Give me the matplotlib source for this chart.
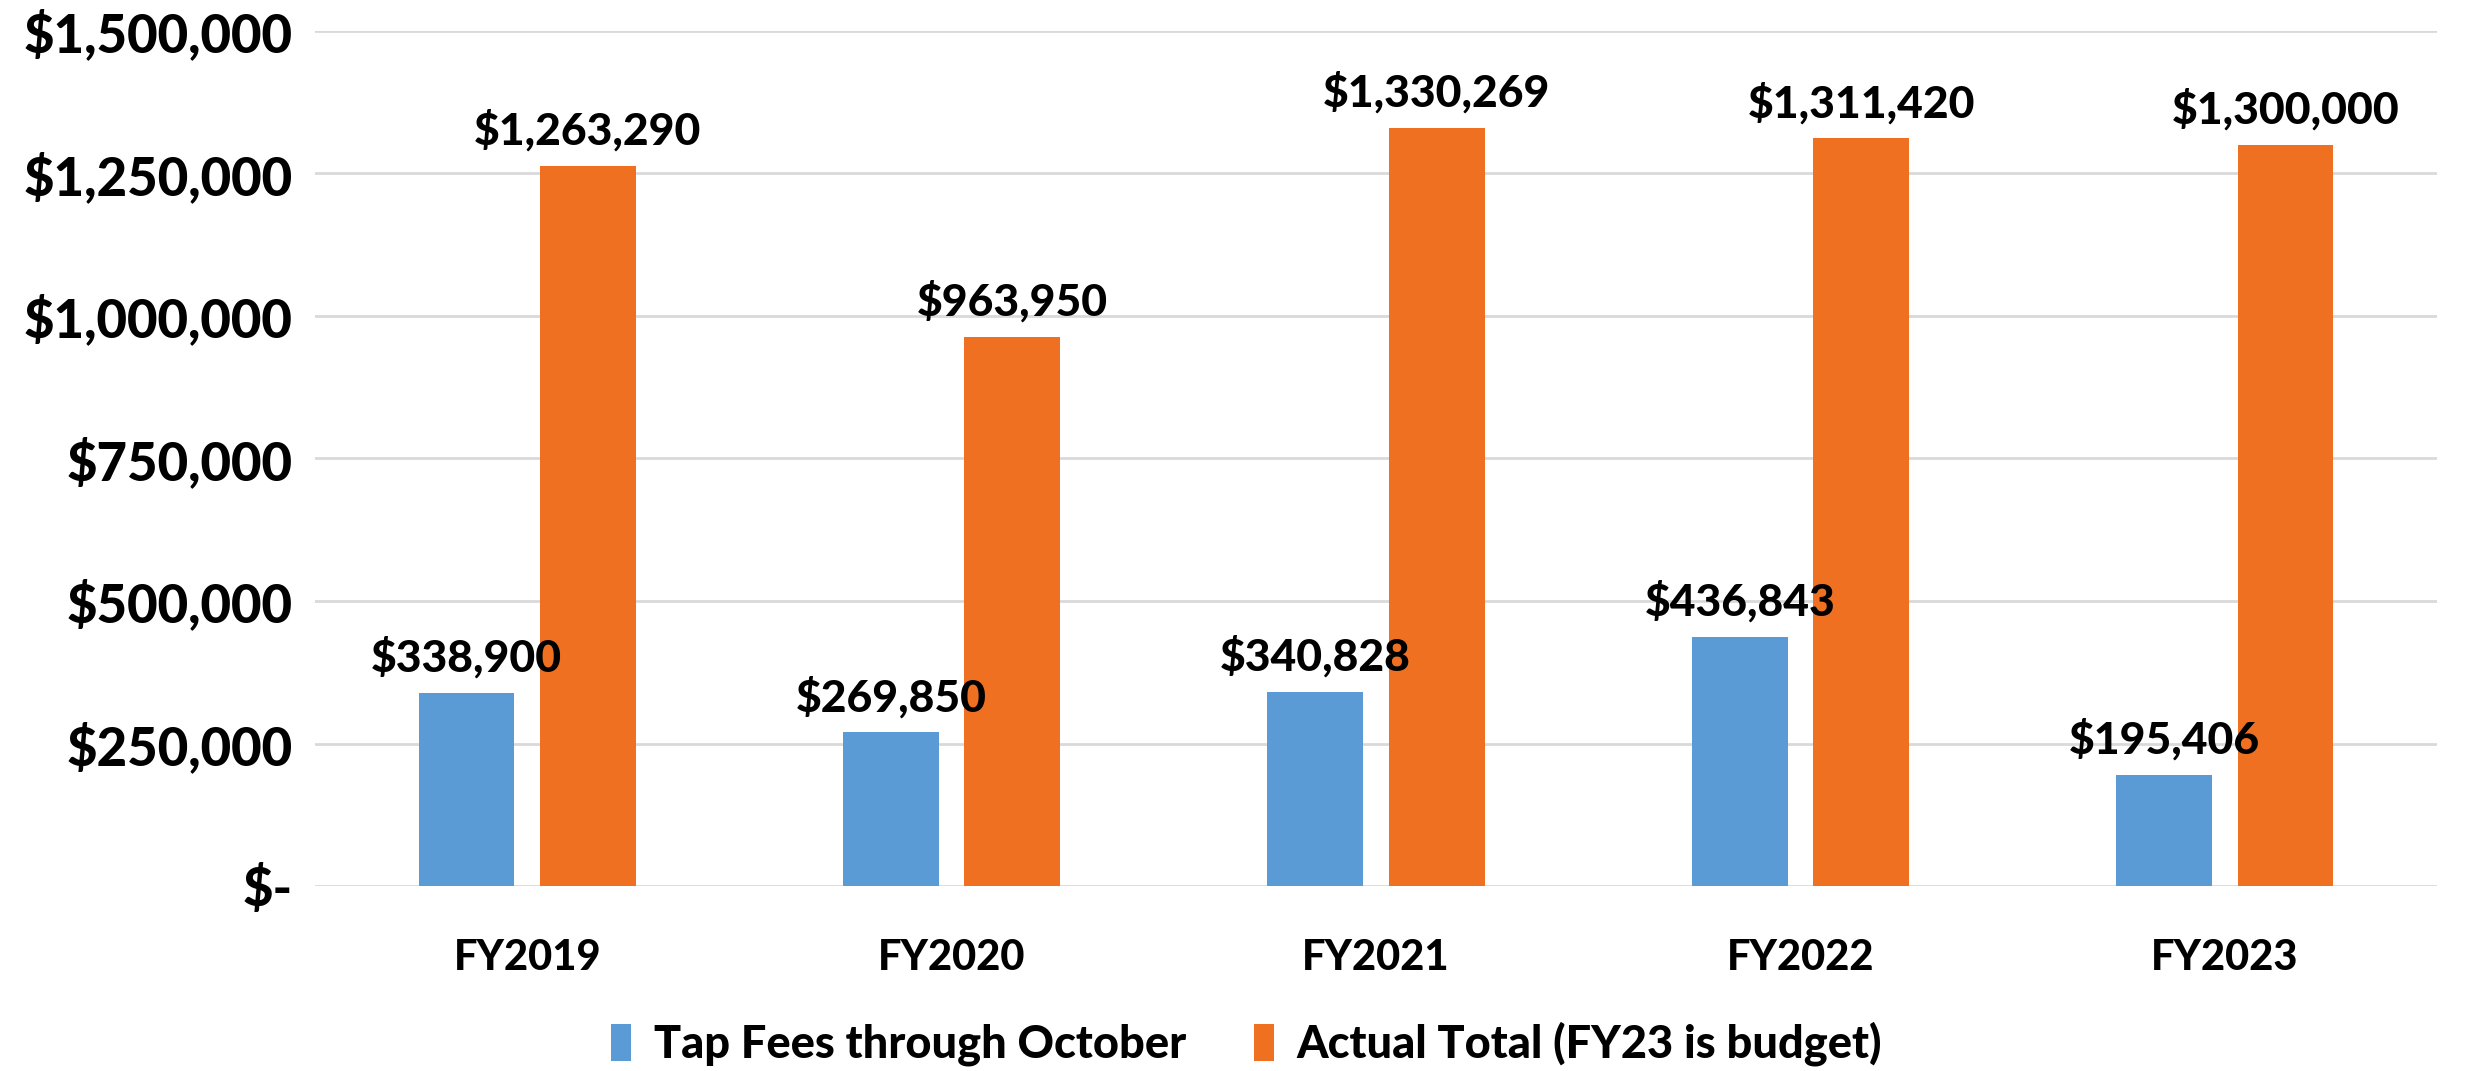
import matplotlib
matplotlib.use('Agg')
import matplotlib.pyplot as plt
import numpy as np

anos = ['FY2019', 'FY2020', 'FY2021', 'FY2022', 'FY2023']
tap_fees = [338900, 269850, 340828, 436843, 195406]
total = [1263290, 963950, 1330269, 1311420, 1300000]
yticks = [0, 250000, 500000, 750000, 1000000, 1250000, 1500000]

azul = '#5B9BD5'
laranja = '#F07022'

plt.rcParams['font.family'] = ['Lato', 'DejaVu Sans']
peso = 900

fig = plt.figure(figsize=(24.68, 10.71), dpi=100)
ax = fig.add_axes([315/2468, 1 - 886/1071, (2437-315)/2468, (886-31)/1071])

x = np.arange(len(anos))
larg = 0.226
desloc = 0.143

b1 = ax.bar(x - desloc, tap_fees, larg, color=azul, label='Tap Fees through October', zorder=3)
b2 = ax.bar(x + desloc, total, larg, color=laranja, label='Actual Total (FY23 is budget)', zorder=3)

def moeda(v):
    return '$-' if v == 0 else '${:,.0f}'.format(v)

for barras in (b1, b2):
    for b in barras:
        ax.annotate(moeda(b.get_height()), (b.get_x() + b.get_width()/2, b.get_height()),
                    xytext=(0, 14), textcoords='offset pixels', ha='center', va='bottom',
                    fontsize=32, fontweight=peso)

ax.set_xlim(-0.5, len(anos) - 0.5)
ax.set_ylim(0, 1500000)
ax.set_yticks(yticks)
ax.set_yticklabels([moeda(v) for v in yticks], fontsize=38, fontweight=peso)
ax.set_xticks(x)
ax.set_xticklabels(anos, fontsize=30, fontweight=peso)
ax.tick_params(axis='both', length=0)
ax.tick_params(axis='y', pad=16)
ax.tick_params(axis='x', pad=38)

ax.grid(axis='y', color='#D9D9D9', linewidth=2, zorder=0)
ax.set_axisbelow(True)
for s in ax.spines.values():
    s.set_visible(False)

fig.legend(handles=[b1, b2], loc='center', bbox_to_anchor=(0.505, 1 - 1044/1071), ncol=2,
           frameon=False, handlelength=0.45, handleheight=0.9,
           handletextpad=0.5, columnspacing=1.5, prop={'weight': peso, 'size': 32.5})

plt.savefig('out.png', dpi=100)
